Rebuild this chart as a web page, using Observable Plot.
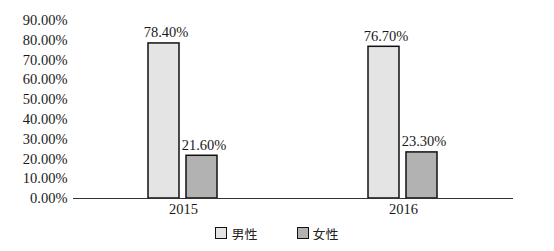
<!DOCTYPE html>
<html><head><meta charset="utf-8">
<script src="https://cdn.jsdelivr.net/npm/d3@7"></script>
<script src="https://cdn.jsdelivr.net/npm/@observablehq/plot@0.6"></script>
<style>
body{margin:0;background:#fff;}
#legend{display:flex;justify-content:center;align-items:center;margin-top:6px;font-family:"Noto Sans CJK SC",sans-serif;font-size:13px;color:#222;height:14px;}
.item{display:flex;align-items:center;}
.sw{width:10px;height:10px;border:1.5px solid #111;margin-right:4px;}
</style></head>
<body><div id="chart"></div><div id="legend"></div>
<script>
const years = ["2015", "2016"];
const genders = ["男性", "女性"];
const male = [78.4, 76.7];
const female = [21.6, 23.3];
const colors = ["#e4e4e4", "#b2b2b2"];
const yTicks = [0,10,20,30,40,50,60,70,80,90];

const data = [];
years.forEach((y,i)=>{
  data.push({year:y, gender:genders[0], value:male[i]});
  data.push({year:y, gender:genders[1], value:female[i]});
});
const fmt = v => v.toFixed(2) + "%";

const chart = Plot.plot({
  width: 554, height: 220,
  marginLeft: 72, marginRight: 41, marginTop: 20, marginBottom: 22,
  style: {fontFamily: "'Liberation Serif', 'Times New Roman', serif", fontSize: "14.5px", color: "#1a1a1a"},
  fx: {domain: years, padding: 0, label: null, axis: "bottom", tickSize: 0, tickPadding: 5},
  x: {domain: genders, paddingInner: 0.18, paddingOuter: 1.92, axis: null},
  y: {domain: [0, 90], ticks: yTicks, tickFormat: fmt, label: null, tickSize: 0, tickPadding: 6},
  color: {domain: genders, range: colors},
  marks: [
    Plot.barY(data, {fx: "year", x: "gender", y: "value", fill: "gender", stroke: "#111", strokeWidth: 1.5}),
    Plot.text(data, {fx: "year", x: "gender", y: "value", text: d => fmt(d.value), dy: -6, dx: 2, lineAnchor: "bottom", fill: "#1a1a1a"}),
    Plot.ruleY([0], {stroke: "#333", strokeWidth: 1.2})
  ]
});
document.getElementById("chart").appendChild(chart);

const legend = document.getElementById("legend");
genders.forEach((g,i)=>{
  const it = document.createElement("div"); it.className="item";
  if (i>0) it.style.marginLeft = "39px";
  const sw = document.createElement("div"); sw.className="sw"; sw.style.background = colors[i];
  const t = document.createElement("span"); t.textContent = g;
  it.appendChild(sw); it.appendChild(t); legend.appendChild(it);
});
</script></body></html>
